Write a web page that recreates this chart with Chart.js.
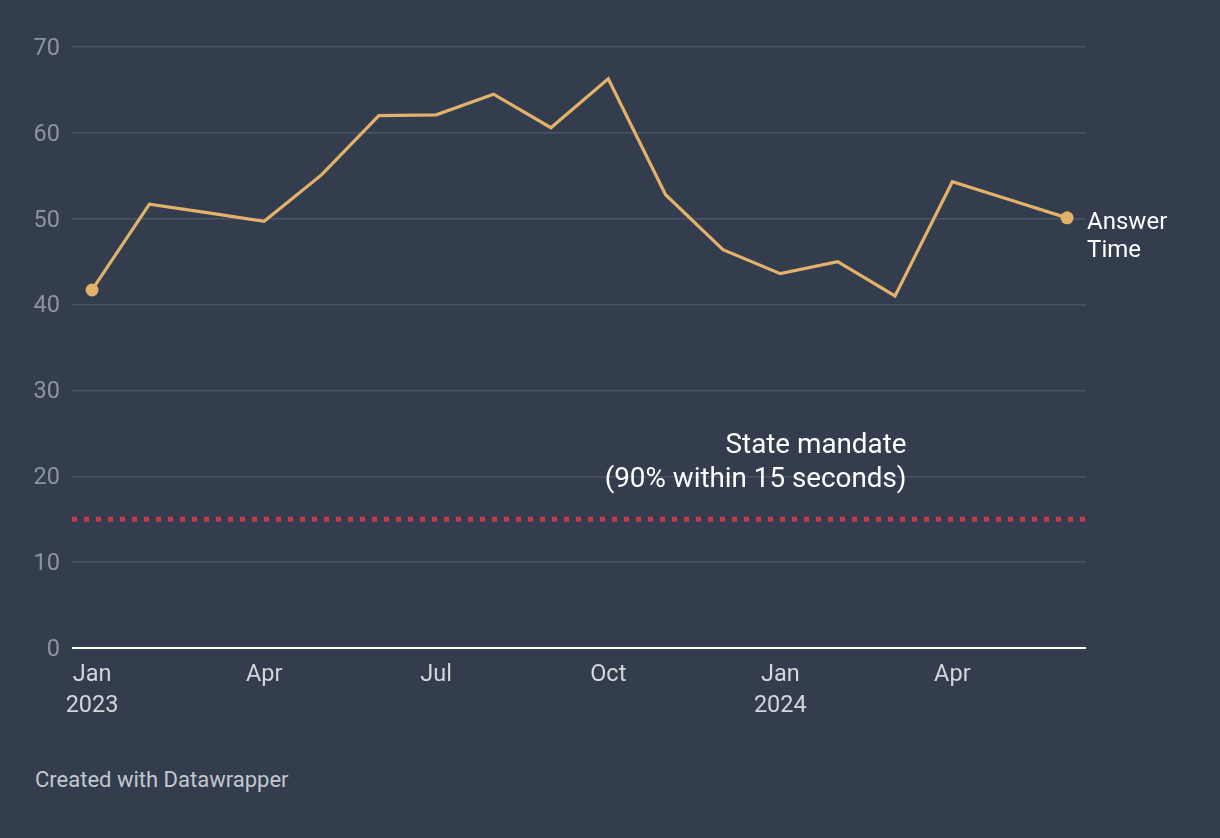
<!DOCTYPE html>
<html>
<head>
<meta charset="utf-8">
<script src="https://cdn.jsdelivr.net/npm/chart.js@4/dist/chart.umd.min.js"></script>
<style>
  html, body { margin: 0; padding: 0; background: #333d4e; }
  #wrap { position: relative; width: 1220px; height: 838px; background: #333d4e; }
  #c { position: absolute; left: 0; top: 0; }
  #foot { position: absolute; left: 35px; top: 766px; font-family: Roboto, sans-serif; font-size: 22px; line-height: 28px; color: #c3c7ce; }
</style>
</head>
<body>
<div id="wrap">
  <canvas id="c" width="1220" height="760"></canvas>
  <div id="foot">Created with Datawrapper</div>
</div>
<script>
// ---- data ----
const months = ["Jan 2023","Feb 2023","Mar 2023","Apr 2023","May 2023","Jun 2023","Jul 2023","Aug 2023","Sep 2023","Oct 2023","Nov 2023","Dec 2023","Jan 2024","Feb 2024","Mar 2024","Apr 2024","May 2024","Jun 2024"];
const answerTime = [41.7, 51.7, 50.7, 49.7, 55.1, 62.0, 62.1, 64.5, 60.6, 66.3, 52.8, 46.4, 43.6, 45.0, 41.0, 54.3, 52.2, 50.1];
const mandate = 15;
const seriesLabel = ["Answer", "Time"];
const mandateLabel = ["State mandate", "(90% within 15 seconds)"];
const tickLabels = {0: ["Jan", "2023"], 3: ["Apr"], 6: ["Jul"], 9: ["Oct"], 12: ["Jan", "2024"], 15: ["Apr"]};
const yTicks = [0, 10, 20, 30, 40, 50, 60, 70];

const X_MIN = -0.35, X_MAX = 17.33;
const FONT = "Roboto, 'Open Sans', sans-serif";

const lineData = answerTime.map((v, i) => ({x: i, y: v}));
const mandateData = [{x: X_MIN, y: mandate}, {x: X_MAX, y: mandate}];

const labelPlugin = {
  id: 'labels',
  afterDatasetsDraw(chart) {
    const ctx = chart.ctx;
    const xs = chart.scales.x, ys = chart.scales.y;
    ctx.save();
    ctx.fillStyle = '#ffffff';
    // series label
    const last = answerTime.length - 1;
    const lx = xs.getPixelForValue(last) + 20;
    const ly = ys.getPixelForValue(answerTime[last]);
    ctx.font = "24px " + FONT;
    ctx.textAlign = 'left';
    ctx.textBaseline = 'middle';
    ctx.fillText(seriesLabel[0], lx, ly + 5);
    ctx.fillText(seriesLabel[1], lx, ly + 33);
    // mandate label
    ctx.font = "27.8px " + FONT;
    ctx.textAlign = 'right';
    const mx = xs.getPixelForValue(14.2);
    const my = ys.getPixelForValue(mandate);
    ctx.fillText(mandateLabel[0], mx, my - 73);
    ctx.fillText(mandateLabel[1], mx, my - 39);
    ctx.restore();
  }
};

new Chart(document.getElementById('c'), {
  type: 'line',
  data: {
    datasets: [
      {
        label: 'Answer Time',
        data: lineData,
        borderColor: '#e3b26a',
        backgroundColor: '#e3b26a',
        borderWidth: 3.2,
        tension: 0,
        pointRadius: ctx => (ctx.dataIndex === 0 || ctx.dataIndex === answerTime.length - 1) ? 6.5 : 0,
        pointHoverRadius: 0,
        pointBorderWidth: 0,
        order: 1
      },
      {
        label: 'State mandate',
        data: mandateData,
        borderColor: '#c8374a',
        borderWidth: 5,
        borderDash: [5, 7],
        borderCapStyle: 'butt',
        pointRadius: 0,
        order: 2
      }
    ]
  },
  options: {
    responsive: false,
    animation: false,
    events: [],
    layout: { padding: { left: 0, right: 134, top: 47, bottom: 0 } },
    plugins: { legend: { display: false }, tooltip: { enabled: false } },
    scales: {
      x: {
        type: 'linear',
        min: X_MIN,
        max: X_MAX,
        afterBuildTicks: s => { s.ticks = Object.keys(tickLabels).map(k => ({value: +k})); },
        afterFit: s => { s.height = 112; },
        grid: { display: false, drawTicks: false },
        border: { display: false },
        ticks: {
          autoSkip: false,
          maxRotation: 0,
          padding: 12,
          color: '#d3d6db',
          font: { family: FONT, size: 23.5, lineHeight: 1.3 },
          callback: v => tickLabels[v] || ''
        }
      },
      y: {
        min: 0,
        max: 70,
        afterBuildTicks: s => { s.ticks = yTicks.map(v => ({value: v})); },
        afterFit: s => { s.width = 72; },
        grid: {
          drawTicks: false,
          color: ctx => ctx.tick && ctx.tick.value === 0 ? '#ffffff' : '#4b5465',
          lineWidth: ctx => ctx.tick && ctx.tick.value === 0 ? 2 : 1.5
        },
        border: { display: false },
        ticks: {
          padding: 12,
          labelOffset: 2,
          color: '#8d949f',
          font: { family: FONT, size: 23.5 }
        }
      }
    }
  },
  plugins: [labelPlugin]
});
</script>
</body>
</html>
